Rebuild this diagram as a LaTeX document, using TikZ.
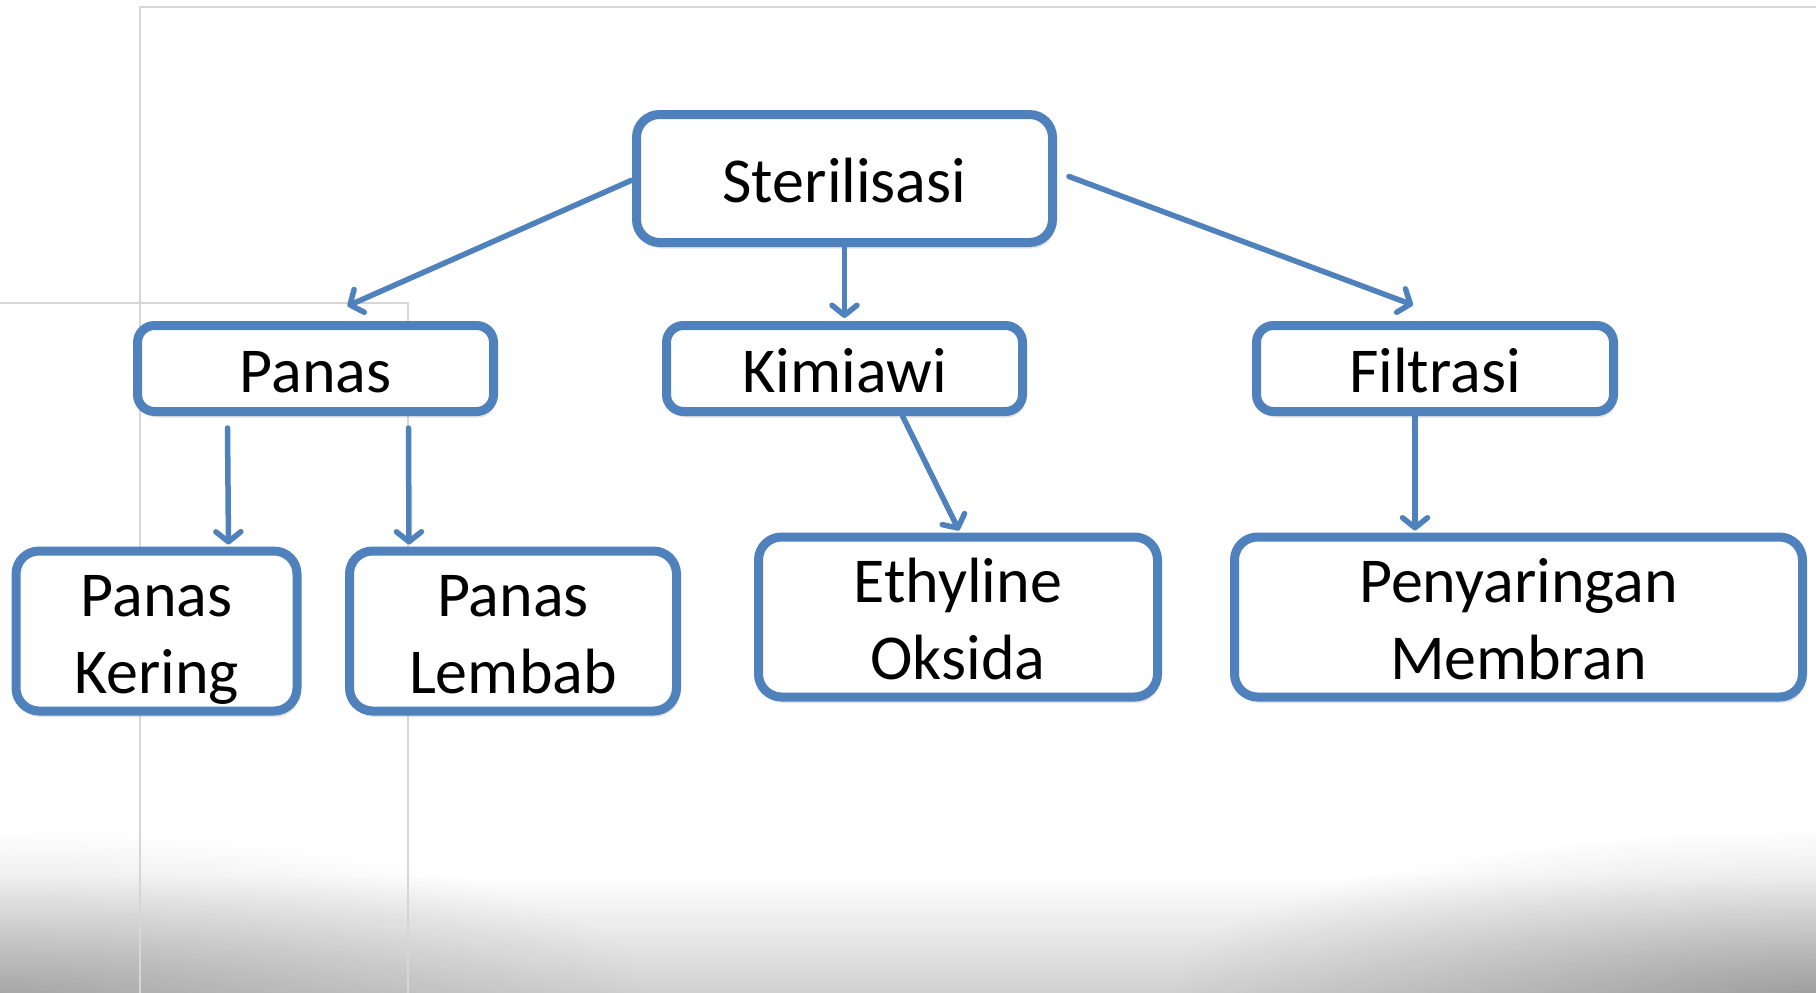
\documentclass[tikz,border=0pt]{standalone}
\usepackage{fontspec}
\setmainfont{Carlito}
\usetikzlibrary{arrows.meta,shadows,calc,fadings}
\definecolor{boxblue}{HTML}{4F81BD}
\definecolor{guide}{HTML}{D6D6D6}
\tikzfading[name=softfade, inner color=transparent!0, outer color=transparent!100]
\newcommand{\ta}{\rule{0pt}{63pt}}
\newcommand{\tb}{\rule[-16pt]{0pt}{16pt}}
\begin{document}
\begin{tikzpicture}[x=1pt,y=-1pt,
  box/.style={draw=boxblue, line width=9pt, fill=white, rounded corners=17pt,
    inner sep=0pt, align=center, font=\fontsize{64}{77}\selectfont,
    drop shadow={shadow xshift=2pt, shadow yshift=-6pt, opacity=0.22}},
  bigbox/.style={box, rounded corners=23pt},
  arr/.style={draw=boxblue, line width=5.5pt, line cap=round,
    -{Straight Barb[length=10pt,width=25pt,line cap=round,line join=round]}},
  guideline/.style={draw=guide, line width=2pt}]
\useasboundingbox (0,0) rectangle (1816,993);
\fill[white] (0,0) rectangle (1816,993);
% bottom gradient
\shade[top color=white, bottom color=black!18] (0,875) rectangle (1816,993);
\fill[black, opacity=0.2, path fading=softfade] (0,993) ellipse [x radius=650pt, y radius=165pt];
\fill[black, opacity=0.24, path fading=softfade] (1816,993) ellipse [x radius=650pt, y radius=165pt];
% guide lines
\draw[guideline] (1816,7) -- (140,7) -- (140,993);
\draw[guideline] (0,303) -- (408,303) -- (408,993);
% boxes
\node[bigbox, minimum width=416pt, minimum height=128pt] (ster) at (844.5,178.5) {\ta Sterilisasi\tb};
\node[box, minimum width=356pt, minimum height=86pt] (panas) at (315.5,368.5) {\ta Panas\tb};
\node[box, minimum width=356pt, minimum height=86pt] (kimia) at (844.5,368.5) {\ta Kimiawi\tb};
\node[box, minimum width=357pt, minimum height=86pt] (filt) at (1435,368.5) {\ta Filtrasi\tb};
\node[bigbox, minimum width=281pt, minimum height=160pt] (kering) at (156.5,631) {\ta Panas\\Kering\tb};
\node[bigbox, minimum width=327pt, minimum height=160pt] (lembab) at (513,631) {\ta Panas\\Lembab\tb};
\node[bigbox, minimum width=399pt, minimum height=160pt] (eth) at (958,617) {\ta Ethyline\\Oksida\tb};
\node[bigbox, minimum width=568pt, minimum height=160pt] (peny) at (1518.5,617) {\ta Penyaringan\\Membran\tb};
% connectors
\draw[arr] ($(ster.west)+(-1,2)$) -- ($(panas.north)+(32,-15)$);
\draw[arr] (ster.south) -- ($(kimia.north)+(0,-3)$);
\draw[arr] ($(ster.east)+(12,-2)$) -- ($(filt.north)+(-22,-16)$);
\draw[arr] ($(panas.south)+(-88,12)$) -- ($(kering.north)+(72,-2)$);
\draw[arr] ($(panas.south)+(93,12)$) -- ($(lembab.north)+(-104,-2)$);
\draw[arr] ($(kimia.south)+(58,0)$) -- ($(eth.north)+(1,-2)$);
\draw[arr] ($(filt.south)+(-20,-2)$) -- ($(peny.north)+(-103.5,-2)$);
\end{tikzpicture}
\end{document}
